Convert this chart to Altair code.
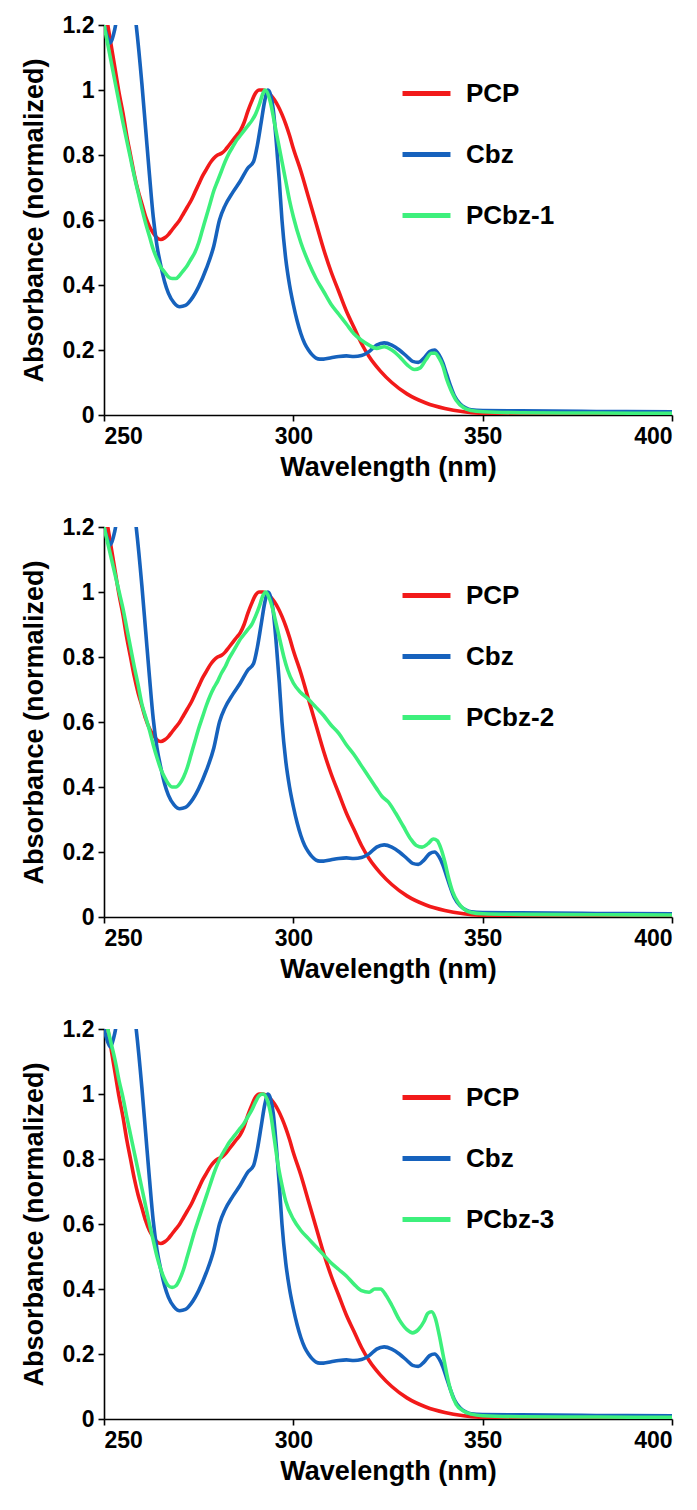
import altair as alt
import pandas as pd

# ---------------- data ----------------
pcp_wl = [250, 251, 252, 253, 254, 255, 256, 257, 258, 259, 260, 261, 262, 263, 264, 265, 266, 267, 268, 269,
          270, 271, 272, 273, 274, 275, 276, 277, 278, 279, 280, 281, 282, 283, 284, 285, 286, 287, 288, 289,
          290, 291, 292, 293, 294, 295, 296, 297, 298, 299, 300, 302, 304, 306, 308, 310, 312, 314, 316, 318,
          320, 323, 326, 330, 335, 340, 345, 350, 360, 380, 400]
pcp_ab = [1.27, 1.2, 1.13, 1.06, 0.99, 0.93, 0.86, 0.80, 0.74, 0.69, 0.65, 0.61, 0.58, 0.56, 0.545, 0.54, 0.545, 0.555, 0.57, 0.585,
          0.60, 0.62, 0.64, 0.66, 0.685, 0.71, 0.735, 0.755, 0.775, 0.79, 0.80, 0.805, 0.815, 0.83, 0.845, 0.86, 0.875, 0.90, 0.935, 0.965,
          0.99, 1.0, 1.0, 0.995, 0.985, 0.97, 0.95, 0.925, 0.895, 0.86, 0.82, 0.75, 0.67, 0.59, 0.51, 0.44, 0.38, 0.32, 0.27, 0.22,
          0.18, 0.135, 0.10, 0.065, 0.037, 0.02, 0.01, 0.005, 0.003, 0.002, 0.002]

cbz_wl = [250, 251, 251.7, 252.5, 253.2, 254, 256, 258, 258.5, 260, 261, 262, 263, 264, 265, 266, 267, 268.5, 270, 271.5,
          273, 275, 277, 279, 280.5, 282, 284, 286, 288, 289.5, 290.5, 291.5, 292.5, 293.3, 294, 294.7, 295.5, 296.3, 297, 298,
          299, 300, 301, 302, 303, 304, 305, 306, 307, 308, 310, 312, 314, 316, 318, 320, 322, 324, 326, 328,
          330, 331.5, 333, 334.5, 336, 337.3, 338.5, 339.5, 340.5, 341.5, 342.5, 344, 345.5, 347, 350, 360, 380, 400]
cbz_ab = [1.2, 1.16, 1.145, 1.17, 1.21, 1.3, 1.4, 1.25, 1.2, 1.02, 0.88, 0.74, 0.61, 0.52, 0.46, 0.41, 0.375, 0.345, 0.333, 0.337,
          0.355, 0.395, 0.45, 0.52, 0.6, 0.645, 0.685, 0.72, 0.76, 0.78, 0.83, 0.9, 0.97, 1.0, 0.985, 0.94, 0.84, 0.72, 0.6, 0.48,
          0.4, 0.34, 0.29, 0.25, 0.22, 0.2, 0.185, 0.175, 0.172, 0.172, 0.176, 0.18, 0.182, 0.18, 0.183, 0.195, 0.215, 0.222, 0.215, 0.2,
          0.18, 0.165, 0.162, 0.175, 0.195, 0.2, 0.185, 0.16, 0.125, 0.09, 0.06, 0.035, 0.022, 0.016, 0.014, 0.013, 0.011, 0.01]

pcbz1_wl = [250, 251, 252, 253, 254, 255, 256, 257, 258, 259, 260, 261, 262, 263, 264, 265, 266, 267, 268, 269,
            270, 271, 272, 273, 274, 275, 276, 277, 278, 279, 280, 281, 282, 283, 284, 285, 286, 287, 288, 289,
            290, 291, 292, 292.5, 293, 294, 295, 296, 297, 298, 299, 300, 302, 304, 306, 308, 310, 312, 314, 316,
            318, 320, 322, 324, 326, 328, 330, 332, 333.5, 335, 336.5, 337.5, 338.5, 339.5, 340.5, 341.5, 343, 345, 347, 350,
            360, 380, 400]
pcbz1_ab = [1.2, 1.14, 1.08, 1.02, 0.96, 0.9, 0.845, 0.79, 0.735, 0.685, 0.635, 0.59, 0.55, 0.51, 0.48, 0.455, 0.44, 0.425, 0.42, 0.42,
            0.43, 0.445, 0.46, 0.48, 0.5, 0.53, 0.57, 0.61, 0.65, 0.69, 0.72, 0.75, 0.78, 0.805, 0.825, 0.845, 0.86, 0.875, 0.89, 0.905,
            0.925, 0.955, 0.99, 1.0, 0.995, 0.96, 0.9, 0.84, 0.78, 0.72, 0.66, 0.61, 0.53, 0.47, 0.42, 0.38, 0.34, 0.31, 0.28, 0.25,
            0.23, 0.215, 0.205, 0.21, 0.2, 0.18, 0.155, 0.14, 0.145, 0.17, 0.19, 0.19, 0.175, 0.15, 0.11, 0.08, 0.045, 0.022, 0.014, 0.01,
            0.007, 0.006, 0.005]

pcbz2_wl = [250, 251, 252, 253, 254, 255, 256, 257, 258, 259, 260, 261, 262, 263, 264, 265, 266, 267, 268, 269,
            270, 271, 272, 273, 274, 275, 276, 277, 278, 279, 280, 281, 282, 283, 284, 285, 286, 287, 288, 289,
            290, 291, 292, 292.7, 293.5, 294.5, 295.5, 296.5, 297.5, 298.5, 300, 302, 304, 306, 308, 310, 312, 314, 316, 318,
            320, 322, 323.5, 325, 327, 329, 331, 332.5, 334, 335.5, 337, 338, 339, 340, 341, 342, 343.5, 345, 347, 350,
            360, 380, 400]
pcbz2_ab = [1.2, 1.15, 1.1, 1.05, 1.0, 0.95, 0.89, 0.83, 0.77, 0.715, 0.655, 0.615, 0.575, 0.53, 0.49, 0.455, 0.43, 0.41, 0.40, 0.40,
            0.41, 0.43, 0.46, 0.5, 0.54, 0.58, 0.615, 0.65, 0.68, 0.705, 0.725, 0.75, 0.77, 0.795, 0.815, 0.835, 0.855, 0.87, 0.885, 0.9,
            0.925, 0.955, 0.99, 1.0, 0.985, 0.95, 0.9, 0.85, 0.8, 0.76, 0.72, 0.69, 0.67, 0.645, 0.62, 0.59, 0.565, 0.53, 0.5, 0.465,
            0.43, 0.395, 0.37, 0.355, 0.32, 0.28, 0.24, 0.22, 0.215, 0.225, 0.24, 0.235, 0.21, 0.17, 0.12, 0.08, 0.045, 0.025, 0.014, 0.01,
            0.008, 0.007, 0.006]

pcbz3_wl = [250, 251, 252, 253, 254, 255, 256, 257, 258, 259, 260, 261, 262, 263, 264, 265, 266, 267, 268, 269,
            270, 271, 272, 273, 274, 275, 276, 277, 278, 279, 280, 281, 282, 283, 284, 285, 286, 287, 288, 289,
            290, 291, 292, 293, 294, 295, 296, 297, 298, 300, 302, 304, 306, 308, 310, 312, 314, 316, 318, 320,
            321.5, 323, 324.5, 326, 328, 330, 331.5, 333, 334.5, 335.5, 336.5, 337.5, 338.5, 339.5, 340.5, 341.5, 343, 345, 347, 350,
            360, 380, 400]
pcbz3_ab = [1.26, 1.2, 1.15, 1.1, 1.04, 0.99, 0.93, 0.875, 0.82, 0.765, 0.71, 0.655, 0.6, 0.55, 0.5, 0.46, 0.43, 0.41, 0.405, 0.41,
            0.43, 0.46, 0.5, 0.54, 0.58, 0.615, 0.65, 0.685, 0.72, 0.755, 0.785, 0.81, 0.83, 0.85, 0.865, 0.88, 0.895, 0.91, 0.93, 0.95,
            0.975, 0.995, 1.0, 0.985, 0.94, 0.86, 0.78, 0.72, 0.67, 0.615, 0.58, 0.555, 0.53, 0.505, 0.48, 0.46, 0.44, 0.415, 0.395, 0.39,
            0.4, 0.4, 0.38, 0.35, 0.305, 0.275, 0.265, 0.275, 0.3, 0.325, 0.33, 0.31, 0.26, 0.2, 0.14, 0.09, 0.045, 0.024, 0.015, 0.01,
            0.007, 0.006, 0.005]

panel_labels = ["PCbz-1", "PCbz-2", "PCbz-3"]
panel_series = [(pcbz1_wl, pcbz1_ab), (pcbz2_wl, pcbz2_ab), (pcbz3_wl, pcbz3_ab)]

x_ticks = [250, 300, 350, 400]
y_ticks = [0, 0.2, 0.4, 0.6, 0.8, 1.0, 1.2]

colors = ["#f21a1a", "#1662bd", "#3df07c"]

FONT = "Liberation Sans"


def make_panel(label, wl_g, ab_g):
    frames = []
    for name, wl, ab in [("PCP", pcp_wl, pcp_ab), ("Cbz", cbz_wl, cbz_ab), (label, wl_g, ab_g)]:
        frames.append(pd.DataFrame({"wl": wl, "ab": ab, "series": name}))
    df = pd.concat(frames, ignore_index=True)
    domain = ["PCP", "Cbz", label]
    return (
        alt.Chart(df)
        .mark_line(strokeWidth=3.6, clip=True, interpolate="monotone")
        .encode(
            x=alt.X("wl:Q",
                    scale=alt.Scale(domain=[250, 400], nice=False),
                    axis=alt.Axis(values=x_ticks, title="Wavelength (nm)")),
            y=alt.Y("ab:Q",
                    scale=alt.Scale(domain=[0, 1.2], nice=False),
                    axis=alt.Axis(values=y_ticks, format="~g", title="Absorbance  (normalized)")),
            color=alt.Color("series:N",
                            scale=alt.Scale(domain=domain, range=colors),
                            legend=alt.Legend(title=None, orient="none", legendX=296, legendY=42,
                                              symbolType="stroke", symbolSize=2300, symbolStrokeWidth=5,
                                              labelFontSize=26, labelFont=FONT, labelFontWeight="bold",
                                              labelColor="black", rowPadding=21, labelOffset=13,
                                              padding=0)),
            detail="series:N",
        )
        .properties(width=568, height=390)
    )


panels = [make_panel(l, w, a) for l, (w, a) in zip(panel_labels, panel_series)]

chart = (
    alt.vconcat(*panels, spacing=36)
    .resolve_scale(color="independent")
    .resolve_legend(color="independent")
    .properties(padding={"left": 20, "top": 14, "right": 2, "bottom": 4})
    .configure_view(stroke=None)
    .configure_axis(grid=False, domainColor="black", tickColor="black", domainWidth=1.6, tickWidth=1.6,
                    tickSize=6, labelColor="black", titleColor="black",
                    labelFont=FONT, labelFontWeight="bold", labelFontSize=23, labelPadding=4,
                    titleFont=FONT, titleFontWeight="bold")
    .configure_axisX(titleFontSize=27, titlePadding=6)
    .configure_axisY(titleFontSize=27, titlePadding=14)
)

chart.save("out.html", embed_options={"renderer": "svg", "actions": False})
